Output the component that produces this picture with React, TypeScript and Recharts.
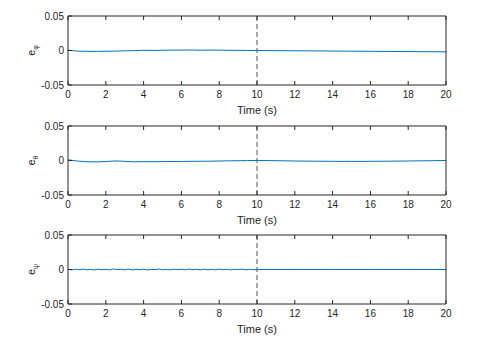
import React from "react";
import {
  LineChart,
  Line,
  XAxis,
  YAxis,
  ReferenceLine,
  Label,
} from "recharts";

const AXIS = "#262626";
const LINE = "#0072BD";
const FONT = "'Liberation Sans', Arial, Helvetica, sans-serif";

const xTicks = [0, 2, 4, 6, 8, 10, 12, 14, 16, 18, 20];
const yTicks = [-0.05, 0, 0.05];
const switchTime = 10;

// time base for the two smooth panels (0.5 s steps)
const timeSmooth = [
  0, 0.5, 1, 1.5, 2, 2.5, 3, 3.5, 4, 4.5, 5, 5.5, 6, 6.5, 7, 7.5, 8, 8.5, 9,
  9.5, 10, 11, 12, 13, 14, 15, 16, 17, 18, 19, 20,
];

const ePhi = [
  0.0005, -0.001, -0.0012, -0.0013, -0.0011, -0.0009, -0.0005, -0.0001,
  0.0003, 0.0001, 0.0003, 0.0005, 0.0006, 0.0007, 0.0004, 0.0006, 0.0005,
  0.0003, 0.0002, 0.0001, 0, -0.0002, -0.0004, -0.0006, -0.0008, -0.001,
  -0.0012, -0.0014, -0.0016, -0.0018, -0.0019,
];

const eTheta = [
  0.001, -0.0008, -0.0018, -0.002, -0.0016, -0.0006, -0.0012, -0.0019,
  -0.0017, -0.0018, -0.0016, -0.0015, -0.0014, -0.0012, -0.0011, -0.001,
  -0.0007, -0.0005, -0.0003, -0.0001, 0.0001, -0.0003, -0.0007, -0.001,
  -0.0012, -0.0013, -0.0012, -0.001, -0.0007, -0.0004, 0,
];

// noisy part of e_psi up to the switch, flat afterwards
const timeNoisy = [
  0, 0.2, 0.4, 0.6, 0.8, 1, 1.2, 1.4, 1.6, 1.8, 2, 2.2, 2.4, 2.6, 2.8, 3, 3.2,
  3.4, 3.6, 3.8, 4, 4.2, 4.4, 4.6, 4.8, 5, 5.2, 5.4, 5.6, 5.8, 6, 6.2, 6.4,
  6.6, 6.8, 7, 7.2, 7.4, 7.6, 7.8, 8, 8.2, 8.4, 8.6, 8.8, 9, 9.2, 9.4, 9.6,
  9.8, 10, 12, 14, 16, 18, 20,
];

const ePsi = [
  0.0004, -0.0006, 0.0003, -0.0002, 0.0006, -0.0005, 0.0001, -0.0007, 0.0005,
  -0.0003, 0.0002, -0.0006, 0.0007, -0.0001, 0.0004, -0.0005, 0.0006, -0.0006,
  0.0002, -0.0003, 0.0005, -0.0007, 0.0003, -0.0002, 0.0006, -0.0004, 0.0001,
  -0.0006, 0.0005, -0.0003, 0.0004, -0.0005, 0.0007, -0.0002, 0.0003, -0.0006,
  0.0005, -0.0004, 0.0002, -0.0005, 0.0006, -0.0003, 0.0004, -0.0006, 0.0003,
  -0.0002, 0.0005, -0.0004, 0.0002, -0.0003, 0, 0, 0, 0, 0, 0,
];

const toRows = (t: number[], v: number[]) =>
  t.map((time, i) => ({ time, value: v[i] }));

const panels = [
  { top: 0, symbol: "\u03C6", data: toRows(timeSmooth, ePhi) },
  { top: 110, symbol: "\u03B8", data: toRows(timeSmooth, eTheta) },
  { top: 219, symbol: "\u03C8", data: toRows(timeNoisy, ePsi) },
];

function BottomTick(props: any) {
  const { x, y, payload } = props;
  return (
    <g>
      <line x1={x} x2={x} y1={y} y2={y - 4} stroke={AXIS} />
      <text
        x={x}
        y={y + 13}
        textAnchor="middle"
        fontSize={10}
        fontFamily={FONT}
        fill={AXIS}
      >
        {payload.value}
      </text>
    </g>
  );
}

function TopTick(props: any) {
  const { x, y } = props;
  return <line x1={x} x2={x} y1={y} y2={y + 4} stroke={AXIS} />;
}

function LeftTick(props: any) {
  const { x, y, payload } = props;
  return (
    <g>
      <line x1={x} x2={x + 4} y1={y} y2={y} stroke={AXIS} />
      <text
        x={x - 4}
        y={y + 3.5}
        textAnchor="end"
        fontSize={10}
        fontFamily={FONT}
        fill={AXIS}
      >
        {String(payload.value)}
      </text>
    </g>
  );
}

function RightTick(props: any) {
  const { x, y } = props;
  return <line x1={x - 4} x2={x} y1={y} y2={y} stroke={AXIS} />;
}

function YLabel({ viewBox, symbol }: any) {
  const cy = viewBox.y + viewBox.height / 2;
  const cx = 35;
  return (
    <text
      x={cx}
      y={cy}
      transform={`rotate(-90, ${cx}, ${cy})`}
      textAnchor="middle"
      fontSize={11}
      fontFamily={FONT}
      fill={AXIS}
    >
      <tspan>e</tspan>
      <tspan dy={3} fontSize={7}>
        {symbol}
      </tspan>
    </text>
  );
}

function Panel({ data, symbol }: { data: any[]; symbol: string }) {
  return (
    <LineChart
      width={481}
      height={120}
      data={data}
      margin={{ top: 15, right: 34, bottom: 0, left: 0 }}
    >
      <XAxis
        dataKey="time"
        type="number"
        domain={[0, 20]}
        ticks={xTicks}
        interval={0}
        height={35}
        tickSize={0}
        tickMargin={0}
        tickLine={false}
        stroke={AXIS}
        tick={BottomTick}
      >
        <Label
          value="Time (s)"
          position="insideBottom"
          offset={6}
          fontSize={11}
          fontFamily={FONT}
          fill={AXIS}
        />
      </XAxis>
      <XAxis
        xAxisId="top"
        dataKey="time"
        type="number"
        orientation="top"
        domain={[0, 20]}
        ticks={xTicks}
        interval={0}
        height={1}
        tickSize={0}
        tickMargin={0}
        tickLine={false}
        stroke={AXIS}
        tick={TopTick}
      />
      <YAxis
        type="number"
        domain={[-0.05, 0.05]}
        ticks={yTicks}
        interval={0}
        width={68}
        tickSize={0}
        tickMargin={0}
        tickLine={false}
        stroke={AXIS}
        tick={LeftTick}
      >
        <Label content={(p: any) => <YLabel {...p} symbol={symbol} />} />
      </YAxis>
      <YAxis
        yAxisId="right"
        type="number"
        orientation="right"
        domain={[-0.05, 0.05]}
        ticks={yTicks}
        interval={0}
        width={1}
        tickSize={0}
        tickMargin={0}
        tickLine={false}
        stroke={AXIS}
        tick={RightTick}
      />
      <ReferenceLine
        x={switchTime}
        stroke="#555555"
        strokeDasharray="5 3"
        strokeWidth={1}
      />
      <Line
        type="linear"
        dataKey="value"
        stroke={LINE}
        strokeWidth={1}
        dot={false}
        isAnimationActive={false}
      />
    </LineChart>
  );
}

export default function App() {
  return (
    <div
      style={{
        position: "absolute",
        left: 0,
        top: 0,
        width: 481,
        height: 345,
        background: "#fff",
      }}
    >
      {panels.map((p) => (
        <div
          key={p.symbol}
          style={{ position: "absolute", left: 0, top: p.top }}
        >
          <Panel data={p.data} symbol={p.symbol} />
        </div>
      ))}
    </div>
  );
}
